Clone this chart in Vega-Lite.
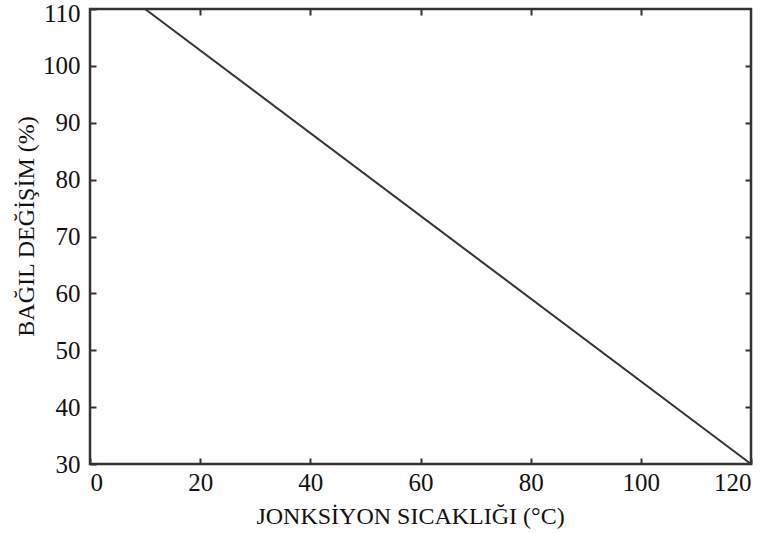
{
  "$schema": "https://vega.github.io/schema/vega-lite/v6.json",
  "autosize": "none",
  "padding": {"left": 90, "top": 9, "right": 19, "bottom": 69},
  "width": 661,
  "height": 455,
  "background": "white",
  "config": {
    "view": {"stroke": "#333333", "strokeWidth": 2.5},
    "axis": {
      "labelFont": "Liberation Serif",
      "titleFont": "Liberation Serif",
      "labelColor": "#111111",
      "titleColor": "#111111",
      "labelFontSize": 25,
      "titleFontSize": 24,
      "titleFontWeight": "normal",
      "grid": false,
      "domain": false,
      "tickColor": "#333333",
      "tickWidth": 2,
      "tickSize": -6
    }
  },
  "data": {"values": [
    {"t": 10, "v": 110},
    {"t": 120, "v": 30}
  ]},
  "layer": [
    {
      "mark": {"type": "line", "color": "#333333", "strokeWidth": 2},
      "encoding": {
        "x": {"field": "t", "type": "quantitative", "scale": {"domain": [0, 120], "nice": false, "zero": false},
              "axis": {"orient": "bottom", "values": [0, 20, 40, 60, 80, 100, 120], "title": "JONKSİYON SICAKLIĞI (°C)", "labelPadding": 12, "titleBaseline": "alphabetic", "titleX": 320, "titleY": 59}},
        "y": {"field": "v", "type": "quantitative", "scale": {"domain": [30, 110], "nice": false, "zero": false},
              "axis": {"orient": "left", "values": [30, 40, 50, 60, 70, 80, 90, 100, 110], "title": "BAĞIL DEĞİŞİM (%)", "labelPadding": 16, "labelOffset": {"condition": {"test": "datum.value == 110", "value": 4}, "value": 0}, "titleBaseline": "middle", "titleX": -64, "titleY": 217}}
      }
    },
    {
      "mark": {"type": "line", "opacity": 0},
      "encoding": {
        "x": {"field": "t", "type": "quantitative",
              "axis": {"orient": "top", "values": [20, 40, 60, 80, 100], "labels": false, "title": null}},
        "y": {"field": "v", "type": "quantitative",
              "axis": {"orient": "right", "values": [40, 50, 60, 70, 80, 90, 100], "labels": false, "title": null}}
      }
    }
  ],
  "resolve": {"axis": {"x": "independent", "y": "independent"}}
}
